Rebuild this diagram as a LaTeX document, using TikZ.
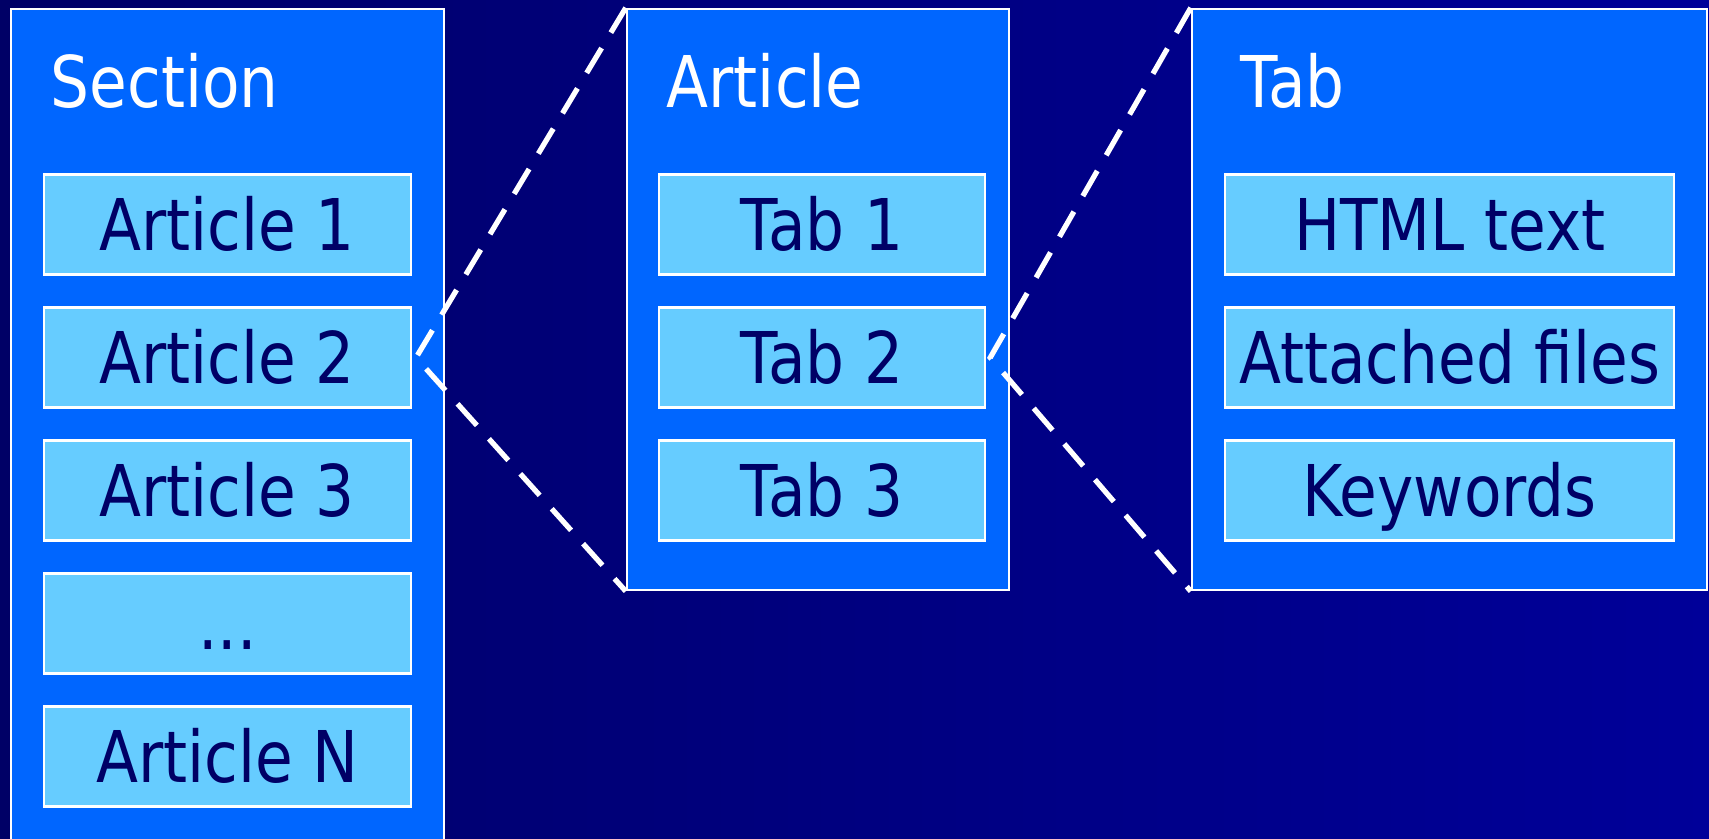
\documentclass[tikz,border=0pt]{standalone}
\usepackage{fontspec}
\setmainfont{DejaVu Sans}[FakeStretch=0.86]
\usepackage{tikz}
\usepackage{xcolor}
\definecolor{bgleft}{HTML}{000066}
\definecolor{bgright}{HTML}{000099}
\definecolor{panelblue}{HTML}{0066FF}
\definecolor{itemblue}{HTML}{66CCFF}
\definecolor{navytext}{HTML}{000066}

\begin{document}
\begin{tikzpicture}[x = 0.1mm, y = 0.1mm,
		panel/.style = {draw = white, line width = 0.7pt, fill = panelblue, inner sep = 0pt},
		item/.style = {draw = white, line width = 0.7pt, fill = itemblue, text = navytext, inner sep = 0pt,
			minimum height = 10mm, text height = 5.2mm, text depth = 0pt, font = \fontsize{20.3pt}{24pt}\selectfont},
		title/.style = {text = white, anchor = base west, inner sep = 0pt, font = \fontsize{20.3pt}{24pt}\selectfont},
		link/.style = {draw = white, line width = 1.5pt, dash pattern = on 2.9mm off 1.8mm}];
				\useasboundingbox (0,0) rectangle (1709,838);
				\shade[left color = bgleft, right color = bgright] (0,0) rectangle (1709,838);
				\clip (0,0) rectangle (1709,838);
				\node[panel, minimum width = 43.3mm, minimum height = 83.6mm] (section) at (227.5,411) {};
				\node[title] (sectitle) at (50,731) {Section};
				\node[item, minimum width = 36.7mm] (art1) at (227.3,613.4) {Article 1};
				\node[item, minimum width = 36.7mm] (art2) at (227.3,480.4) {Article 2};
				\node[item, minimum width = 36.7mm] (art3) at (227.3,347.4) {Article 3};
				\node[item, minimum width = 36.7mm] (artdots) at (227.3,214.5) {...};
				\node[item, minimum width = 36.7mm] (artn) at (227.3,81.5) {Article N};
				\node[panel, minimum width = 38.2mm, minimum height = 58.1mm] (article) at (818,538.5) {};
				\node[title] (arttitle) at (666,731) {Article};
				\node[item, minimum width = 32.6mm] (tab1) at (822,613.4) {Tab 1};
				\node[item, minimum width = 32.6mm] (tab2) at (822,480.4) {Tab 2};
				\node[item, minimum width = 32.6mm] (tab3) at (822,347.4) {Tab 3};
				\node[panel, minimum width = 51.5mm, minimum height = 58.1mm] (tab) at (1449.5,538.5) {};
				\node[title] (tabtitle) at (1240,731) {Tab};
				\node[item, minimum width = 44.9mm] (html) at (1449.7,613.4) {HTML text};
				\node[item, minimum width = 44.9mm] (files) at (1449.7,480.4) {Attached files};
				\node[item, minimum width = 44.9mm] (keywords) at (1449.7,347.4) {Keywords};
				\draw[link] (article.north west) -- ([xshift = 0.4mm]art2.east) -- (article.south west);
				\draw[link] (tab.north west) -- ([xshift = 0.4mm]tab2.east) -- (tab.south west);
			\end{tikzpicture}
\end{document}
